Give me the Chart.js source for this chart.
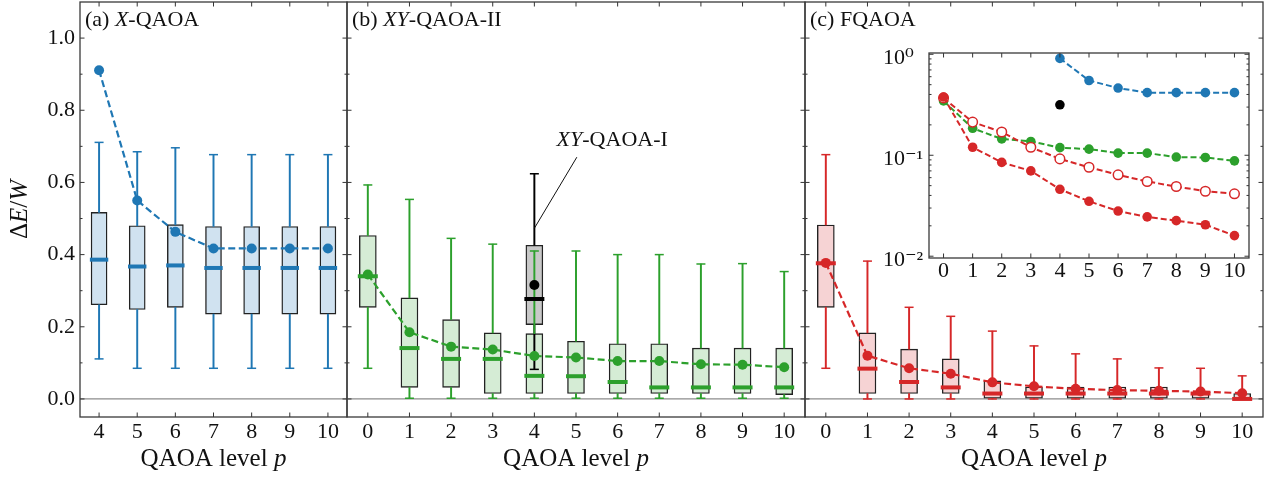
<!DOCTYPE html>
<html>
<head>
<meta charset="utf-8">
<script src="https://cdn.jsdelivr.net/npm/chart.js@4.4.1/dist/chart.umd.min.js"></script>
<style>
  body { margin: 0; background: #fff; }
  .wrap { position: relative; width: 1279px; height: 478px; }
  canvas { position: absolute; left: 0; top: 0; }
</style>
</head>
<body>
<div class="wrap">
  <canvas id="panelA" width="1279" height="478"></canvas>
  <canvas id="panelB" width="1279" height="478"></canvas>
  <canvas id="panelC" width="1279" height="478"></canvas>
  <canvas id="inset" width="1279" height="478"></canvas>
</div>
<script>
// QAOA levels (x axis)
const levelsA = [4, 5, 6, 7, 8, 9, 10];
const levelsBC = [0, 1, 2, 3, 4, 5, 6, 7, 8, 9, 10];
const yTicks = [0, 0.2, 0.4, 0.6, 0.8, 1.0];
const yMinor = [0.1, 0.3, 0.5, 0.7, 0.9];

// (a) X-QAOA
const xLow = [0.111, 0.085, 0.085, 0.085, 0.085, 0.085, 0.085];
const xQ1 = [0.261, 0.248, 0.254, 0.235, 0.235, 0.235, 0.235];
const xMed = [0.386, 0.367, 0.370, 0.363, 0.363, 0.363, 0.363];
const xQ3 = [0.517, 0.480, 0.483, 0.478, 0.478, 0.478, 0.478];
const xHigh = [0.711, 0.685, 0.696, 0.677, 0.677, 0.677, 0.677];
const xMean = [0.911, 0.550, 0.463, 0.417, 0.417, 0.417, 0.417];

// (b) XY-QAOA-II
const xyLow = [0.085, 0.002, 0.002, 0.002, 0.002, 0.002, 0.002, 0.002, 0.002, 0.002, 0.002];
const xyQ1 = [0.254, 0.032, 0.032, 0.015, 0.015, 0.015, 0.015, 0.015, 0.015, 0.015, 0.012];
const xyMed = [0.340, 0.141, 0.111, 0.111, 0.064, 0.063, 0.047, 0.032, 0.032, 0.032, 0.032];
const xyQ3 = [0.453, 0.280, 0.220, 0.183, 0.181, 0.160, 0.153, 0.153, 0.141, 0.141, 0.141];
const xyHigh = [0.593, 0.553, 0.445, 0.429, 0.410, 0.410, 0.400, 0.400, 0.374, 0.375, 0.353];
const xyMean = [0.345, 0.185, 0.145, 0.137, 0.119, 0.115, 0.105, 0.105, 0.096, 0.095, 0.088];

// XY-QAOA-I (only p = 4)
const xy1Level = [4];
const xy1Low = [0.082];
const xy1Q1 = [0.206];
const xy1Med = [0.277];
const xy1Q3 = [0.426];
const xy1High = [0.624];
const xy1Mean = [0.316];

// (c) FQAOA
const fqLow = [0.085, 0, 0, 0, 0, 0, 0, 0, 0, 0, 0];
const fqQ1 = [0.254, 0.015, 0.015, 0.015, 0.002, 0.002, 0.002, 0.002, 0.002, 0.002, 0.002];
const fqMed = [0.376, 0.084, 0.047, 0.032, 0.015, 0.015, 0.015, 0.015, 0.015, 0.015, 0.0];
const fqQ3 = [0.482, 0.183, 0.138, 0.111, 0.050, 0.033, 0.033, 0.033, 0.033, 0.015, 0.015];
const fqHigh = [0.677, 0.382, 0.254, 0.229, 0.188, 0.147, 0.125, 0.111, 0.086, 0.085, 0.064];
const fqMean = [0.377, 0.120, 0.085, 0.070, 0.046, 0.035, 0.028, 0.0245, 0.0225, 0.0205, 0.016];

// inset (log scale): open red circles
const fqOpenMean = [0.37, 0.213, 0.170, 0.120, 0.092, 0.076, 0.064, 0.055, 0.049, 0.044, 0.0415];
const insetYTicks = [0.01, 0.1, 1];
const insetYLabels = ['10\u207B\u00B2', '10\u207B\u00B9', '10\u2070'];

const BLUE = '#1f77b4', GREEN = '#2ca02c', RED = '#d62728';
const W = 1279, H = 478, TOP = 2, BOTTOM = 417;
const SERIF = '"Liberation Serif", "DejaVu Serif", serif';
const tickFont = { family: SERIF, size: 22 };

// mixed upright / italic text
function rich(ctx, parts, x, y, size, align, rotate) {
  ctx.save();
  ctx.translate(x, y);
  if (rotate) ctx.rotate(-Math.PI / 2);
  const fonts = parts.map(p => (p[1] ? 'italic ' : '') + size + 'px ' + SERIF);
  let total = 0;
  const widths = parts.map((p, i) => { ctx.font = fonts[i]; const w = ctx.measureText(p[0]).width; total += w; return w; });
  let cx = align === 'center' ? -total / 2 : 0;
  ctx.textBaseline = 'middle';
  ctx.textAlign = 'left';
  ctx.fillStyle = '#111';
  parts.forEach((p, i) => { ctx.font = fonts[i]; ctx.fillText(p[0], cx, 0); cx += widths[i]; });
  ctx.restore();
}

// frame with inward ticks on all four sides
function frame(cfg) {
  return {
    id: 'frame',
    beforeDatasetsDraw(chart) {
      const { ctx, chartArea: a } = chart;
      ctx.save();
      if (cfg.bg) {
        ctx.fillStyle = cfg.bg;
        ctx.fillRect(a.left, a.top, a.width, a.height);
      }
      if (cfg.zero) {
        const y0 = chart.scales.y.getPixelForValue(0);
        ctx.strokeStyle = '#8c8c8c';
        ctx.lineWidth = 1.2;
        ctx.beginPath();
        ctx.moveTo(a.left, y0);
        ctx.lineTo(a.right, y0);
        ctx.stroke();
      }
      ctx.restore();
    },
    afterDatasetsDraw(chart) {
      const { ctx, chartArea: a, scales: { x, y } } = chart;
      ctx.save();
      ctx.strokeStyle = '#333';
      ctx.lineWidth = 1;
      ctx.beginPath();
      const vt = (v, len) => {
        const p = x.getPixelForValue(v);
        ctx.moveTo(p, a.bottom); ctx.lineTo(p, a.bottom - len);
        ctx.moveTo(p, a.top); ctx.lineTo(p, a.top + len);
      };
      const ht = (v, len) => {
        const p = y.getPixelForValue(v);
        ctx.moveTo(a.left, p); ctx.lineTo(a.left + len, p);
        ctx.moveTo(a.right, p); ctx.lineTo(a.right - len, p);
      };
      x.ticks.forEach(t => vt(t.value, 4.5));
      y.ticks.forEach(t => ht(t.value, 4.5));
      (cfg.yMinor || []).forEach(v => ht(v, 2.5));
      ctx.stroke();
      ctx.strokeStyle = '#3a3a3a';
      ctx.lineWidth = 1.3;
      ctx.strokeRect(a.left, a.top, a.width, a.height);
      ctx.restore();
    }
  };
}

function texts(cfg) {
  return {
    id: 'texts',
    afterDraw(chart) {
      const { ctx, chartArea: a, scales: { x, y } } = chart;
      if (cfg.title) rich(ctx, cfg.title, a.left + 5, a.top + 18, 22, 'left');
      if (cfg.xTitle) rich(ctx, cfg.xTitle, (a.left + a.right) / 2, a.bottom + 42, 25, 'center');
      if (cfg.yTitle) rich(ctx, cfg.yTitle, 20, (a.top + a.bottom) / 2, 25, 'center', true);
      if (cfg.note) {
        const n = cfg.note;
        ctx.save();
        ctx.strokeStyle = '#111';
        ctx.lineWidth = 1;
        ctx.beginPath();
        ctx.moveTo(x.getPixelForValue(n.from[0]), y.getPixelForValue(n.from[1]));
        ctx.lineTo(x.getPixelForValue(n.to[0]), y.getPixelForValue(n.to[1]));
        ctx.stroke();
        ctx.restore();
        rich(ctx, n.text, x.getPixelForValue(n.at[0]), y.getPixelForValue(n.at[1]), 22, 'center');
      }
    }
  };
}

// box plot pieces built from the arrays; lower "order" is drawn on top
function boxDatasets(levels, low, q1, med, q3, high, color, fill, boxW, medR, k) {
  return [
    { type: 'bar', data: levels.map((x, i) => ({ x, y: [q1[i], q3[i]] })),
      backgroundColor: fill, borderColor: '#222', borderWidth: 1.4, borderSkipped: false,
      barThickness: boxW, grouped: false, order: 30 + k },
    { type: 'bar', data: levels.flatMap((x, i) => [{ x, y: [low[i], q1[i]] }, { x, y: [q3[i], high[i]] }]),
      backgroundColor: color, borderWidth: 0, barThickness: 1.3, grouped: false, order: 20 + k },
    { type: 'line', showLine: false, data: levels.flatMap((x, i) => [{ x, y: low[i] }, { x, y: high[i] }]),
      pointStyle: 'line', pointRadius: 4.5, pointBorderWidth: 1.5, pointBorderColor: color, order: 10 + k },
    { type: 'line', showLine: false, data: levels.map((x, i) => ({ x, y: med[i] })),
      pointStyle: 'line', pointRadius: medR, pointBorderWidth: 4, pointBorderColor: color, order: 5 + k }
  ];
}

function meanDataset(levels, mean, color, order, r) {
  return {
    type: 'line', data: levels.map((x, i) => ({ x, y: mean[i] })),
    borderColor: color, borderWidth: 2.2, borderDash: [7, 3.5], tension: 0,
    pointRadius: r, pointBackgroundColor: color, pointBorderColor: color, pointBorderWidth: 0, order
  };
}

function mainChart(id, levels, xmin, xmax, left, right, datasets, txt, showY) {
  return new Chart(document.getElementById(id), {
    type: 'bar',
    data: { datasets },
    options: {
      responsive: false,
      animation: false,
      events: [],
      layout: { autoPadding: false, padding: { left: showY ? 0 : left, right: W - right, top: TOP, bottom: 0 } },
      plugins: { legend: { display: false }, tooltip: { enabled: false } },
      scales: {
        x: {
          type: 'linear', min: xmin, max: xmax, offset: false,
          grid: { display: false, drawTicks: false }, border: { display: false },
          afterBuildTicks: s => { s.ticks = levels.map(v => ({ value: v })); },
          afterFit: s => { s.height = H - BOTTOM; s.paddingLeft = 0; s.paddingRight = 0; },
          ticks: { color: '#111', font: tickFont, padding: 2, maxRotation: 0, autoSkip: false, callback: v => String(v) }
        },
        y: {
          type: 'linear', min: -0.05, max: 1.1,
          grid: { display: false, drawTicks: false }, border: { display: false },
          afterBuildTicks: s => { s.ticks = yTicks.map(v => ({ value: v })); },
          afterFit: s => { s.width = showY ? left : 0; s.paddingTop = 0; s.paddingBottom = 0; },
          ticks: { display: showY, color: '#111', font: tickFont, padding: 5, callback: v => v.toFixed(1) }
        }
      }
    },
    plugins: [frame({ zero: true, yMinor }), texts(txt)]
  });
}

const xTitle = [['QAOA level ', false], ['p', true]];

mainChart('panelA', levelsA, 3.5, 10.5, 80, 347,
  [...boxDatasets(levelsA, xLow, xQ1, xMed, xQ3, xHigh, BLUE, '#d0e2f0', 16, 9.2, 0),
   meanDataset(levelsA, xMean, BLUE, 0, 5)],
  { title: [['(a) ', false], ['X', true], ['-QAOA', false]], xTitle,
    yTitle: [['\u0394', false], ['E', true], ['/', false], ['W', true]] }, true);

mainChart('panelB', levelsBC, -0.5, 10.5, 347, 805,
  [...boxDatasets(xy1Level, xy1Low, xy1Q1, xy1Med, xy1Q3, xy1High, '#000', '#c8c8c8', 17, 10, 1),
   ...boxDatasets(levelsBC, xyLow, xyQ1, xyMed, xyQ3, xyHigh, GREEN, '#d5ecd5', 17, 10, 0),
   meanDataset(xy1Level, xy1Mean, '#000', 1, 5),
   meanDataset(levelsBC, xyMean, GREEN, 0, 5)],
  { title: [['(b) ', false], ['XY', true], ['-QAOA-II', false]], xTitle,
    note: { from: [4, 0.473], to: [5.02, 0.67], at: [5.87, 0.716], text: [['XY', true], ['-QAOA-I', false]] } }, false);

mainChart('panelC', levelsBC, -0.5, 10.5, 805, 1263,
  [...boxDatasets(levelsBC, fqLow, fqQ1, fqMed, fqQ3, fqHigh, RED, '#f6d3d4', 17, 10, 0),
   meanDataset(levelsBC, fqMean, RED, 0, 5)],
  { title: [['(c) FQAOA', false]], xTitle }, false);

// inset with logarithmic y axis
const insetMinor = [];
[0.01, 0.1].forEach(d => { for (let m = 2; m <= 9; m++) insetMinor.push(m * d); });

function insetLine(levels, vals, color, open, order) {
  return {
    type: 'line', data: levels.map((x, i) => ({ x, y: vals[i] })),
    borderColor: color, borderWidth: 2, borderDash: [6, 3], tension: 0,
    pointRadius: 4.8, pointBackgroundColor: open ? '#fff' : color, pointBorderColor: color,
    pointBorderWidth: open ? 1.5 : 0, order
  };
}

new Chart(document.getElementById('inset'), {
  type: 'line',
  data: {
    datasets: [
      insetLine(levelsA, xMean, BLUE, false, 3),
      insetLine(levelsBC, xyMean, GREEN, false, 2),
      insetLine(levelsBC, fqOpenMean, RED, true, 1),
      insetLine(levelsBC, fqMean, RED, false, 0),
      { type: 'line', showLine: false, data: xy1Level.map((x, i) => ({ x, y: xy1Mean[i] })),
        pointRadius: 4.8, pointBackgroundColor: '#000', pointBorderWidth: 0, order: 4 }
    ]
  },
  options: {
    responsive: false,
    animation: false,
    events: [],
    layout: { autoPadding: false, padding: { left: 883, right: W - 1249, top: 53, bottom: H - 258 - 30 } },
    plugins: { legend: { display: false }, tooltip: { enabled: false } },
    scales: {
      x: {
        type: 'linear', min: -0.5, max: 10.5, offset: false,
        grid: { display: false, drawTicks: false }, border: { display: false },
        afterBuildTicks: s => { s.ticks = levelsBC.map(v => ({ value: v })); },
        afterFit: s => { s.height = 30; s.paddingLeft = 0; s.paddingRight = 0; },
        ticks: { color: '#111', font: tickFont, padding: 0, maxRotation: 0, autoSkip: false, callback: v => String(v) }
      },
      y: {
        type: 'logarithmic', min: 0.0096, max: 1.03,
        grid: { display: false, drawTicks: false }, border: { display: false },
        afterBuildTicks: s => { s.ticks = insetYTicks.map(v => ({ value: v })); },
        afterFit: s => { s.width = 46; s.paddingTop = 0; s.paddingBottom = 0; },
        ticks: { color: '#111', font: tickFont, padding: 4, crossAlign: 'far', labelOffset: 4,
                 callback: (v, i) => insetYLabels[i] }
      }
    }
  },
  plugins: [frame({ bg: '#fff', yMinor: insetMinor })]
});
</script>
</body>
</html>
